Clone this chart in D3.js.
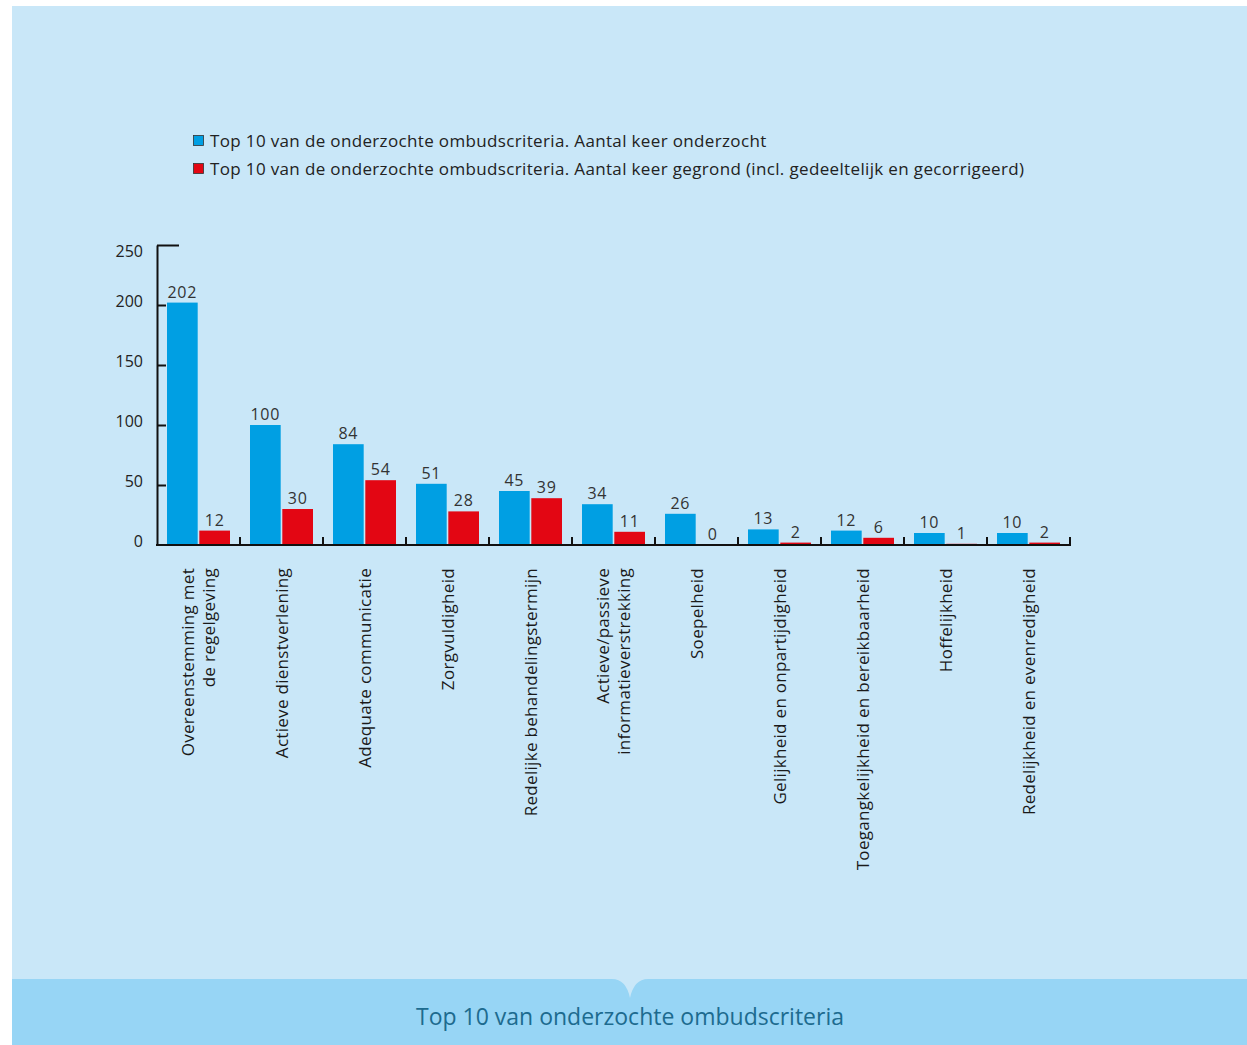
<!DOCTYPE html>
<html>
<head>
  <meta charset="UTF-8">
  <script src="https://cdn.jsdelivr.net/npm/d3@7"></script>
  <style>
    body { margin:0; background:#fff; }
    svg text { font-family: "Open Sans", "Noto Sans", sans-serif; }
  </style>
</head>
<body>
<svg width="1247" height="1045"></svg>
<script>
var categories = [
  ["Overeenstemming met", "de regelgeving"],
  ["Actieve dienstverlening"],
  ["Adequate communicatie"],
  ["Zorgvuldigheid"],
  ["Redelijke behandelingstermijn"],
  ["Actieve/passieve", "informatieverstrekking"],
  ["Soepelheid"],
  ["Gelijkheid en onpartijdigheid"],
  ["Toegangkelijkheid en bereikbaarheid"],
  ["Hoffelijkheid"],
  ["Redelijkheid en evenredigheid"]
];
var onderzocht = [202, 100, 84, 51, 45, 34, 26, 13, 12, 10, 10];
var gegrond = [12, 30, 54, 28, 39, 11, 0, 2, 6, 1, 2];
var yTicks = [0, 50, 100, 150, 200, 250];
var seriesNames = [
  "Top 10 van de onderzochte ombudscriteria. Aantal keer onderzocht",
  "Top 10 van de onderzochte ombudscriteria. Aantal keer gegrond (incl. gedeeltelijk en gecorrigeerd)"
];
var colors = ["#009fe3", "#e30613"];
var title = "Top 10 van onderzochte ombudscriteria";

var svg = d3.select("svg");

// background panel + bottom banner with a notch
svg.append("rect").attr("x", 12).attr("y", 6).attr("width", 1235).attr("height", 1039).attr("fill", "#c9e7f8");
svg.append("path")
  .attr("d", "M12,979 H612 Q626,979 630,998 Q634,979 648,979 H1247 V1045 H12 Z")
  .attr("fill", "#97d5f5");
svg.append("text").attr("x", 630).attr("y", 1025).attr("text-anchor", "middle")
  .attr("font-size", 23).attr("fill", "#1d6b8f").text(title);

// legend
var legend = svg.append("g");
seriesNames.forEach(function(name, i) {
  var y = 141 + i * 28;
  legend.append("rect").attr("x", 193.5).attr("y", y - 5.5).attr("width", 10).attr("height", 10)
    .attr("fill", colors[i]).attr("stroke", "#333").attr("stroke-width", 0.8);
  legend.append("text").attr("x", 210).attr("y", y + 6).attr("font-size", 17)
    .attr("letter-spacing", 0.35).attr("fill", "#222").text(name);
});

// scales
var x0 = d3.scaleBand().domain(d3.range(categories.length)).range([157, 1070]).paddingInner(0).paddingOuter(0);
var x1 = d3.scaleBand().domain([0, 1]).range([10, x0.bandwidth() - 10]).paddingInner(0.05);
var y = d3.scaleLinear().domain([0, 250]).range([545, 245]);

// y axis
var yAxis = svg.append("g").attr("transform", "translate(157,0)")
  .call(d3.axisLeft(y).tickValues(yTicks).tickSize(0).tickPadding(14));
yAxis.select(".domain").attr("stroke", "#111").attr("stroke-width", 2);
// labels sit a little above their ticks, the top one just below
yAxis.selectAll("text").attr("font-size", 16).attr("fill", "#222")
  .attr("dy", function(d) { return d == 250 ? "0.7em" : "0.08em"; })
  .attr("font-family", "Open Sans, sans-serif");
yAxis.selectAll(".tick").append("line").attr("x2", function(d) { return d == 250 ? 22 : 9; })
  .attr("stroke", "#111").attr("stroke-width", 2).style("display", function(d) { return d == 0 ? "none" : null; });

// bars
var groups = svg.append("g").selectAll("g").data(categories).enter().append("g")
  .attr("transform", function(d, i) { return "translate(" + x0(i) + ",0)"; });

[onderzocht, gegrond].forEach(function(vals, s) {
  groups.append("rect")
    .attr("x", x1(s)).attr("width", x1.bandwidth())
    .attr("y", function(d, i) { return y(vals[i]); })
    .attr("height", function(d, i) { return y(0) - y(vals[i]); })
    .attr("fill", colors[s]);
  groups.append("text")
    .attr("x", x1(s) + x1.bandwidth() / 2)
    .attr("y", function(d, i) { return y(vals[i]) - 5; })
    .attr("text-anchor", "middle").attr("font-size", 16).attr("letter-spacing", 0.8).attr("fill", "#333")
    .text(function(d, i) { return vals[i]; });
});

// x axis
var xAxis = svg.append("g").attr("transform", "translate(0,545)");
xAxis.append("line").attr("x1", 156).attr("x2", 1071).attr("stroke", "#111").attr("stroke-width", 2);
d3.range(1, categories.length + 1).forEach(function(i) {
  var xx = x0(i) === undefined ? 1070 : x0(i);
  xAxis.append("line").attr("x1", xx).attr("x2", xx).attr("y1", 0).attr("y2", -8)
    .attr("stroke", "#111").attr("stroke-width", 2);
});

// category labels (rotated)
groups.each(function(lines, i) {
  var cx = x0.bandwidth() / 2;
  var t = d3.select(this).append("text")
    .attr("transform", "translate(" + cx + ",568) rotate(-90)")
    .attr("text-anchor", "end").attr("font-size", 17).attr("letter-spacing", 0.3).attr("fill", "#1a1a1a");
  var n = lines.length;
  lines.forEach(function(line, k) {
    t.append("tspan").attr("x", 0).attr("y", (k - (n - 1) / 2) * 21 + 6).text(line);
  });
});
</script>
</body>
</html>
